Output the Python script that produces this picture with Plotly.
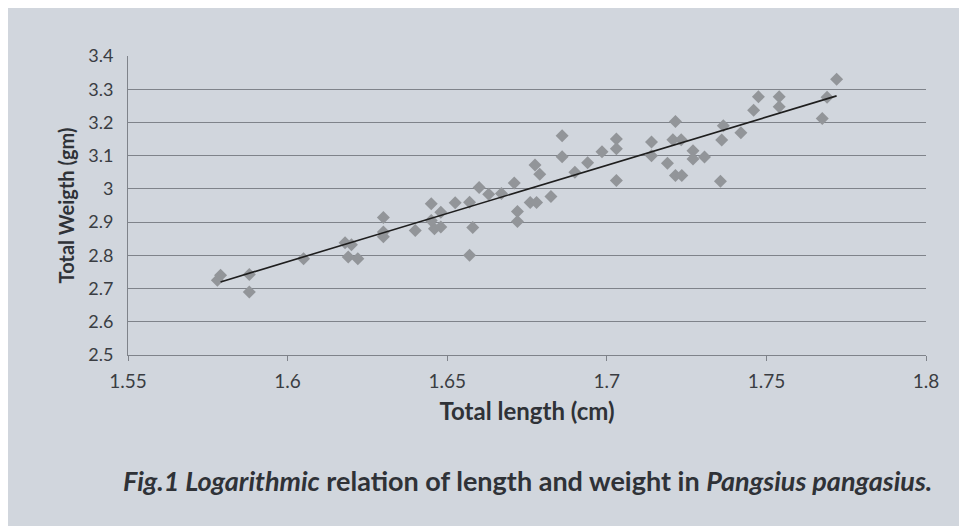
import plotly.graph_objects as go

# Data read from the (perspective-corrected) reference picture
length_cm = [1.579, 1.578, 1.588, 1.588, 1.605, 1.619, 1.622, 1.620, 1.618, 1.630,
             1.630, 1.630, 1.640, 1.645, 1.648, 1.646, 1.648, 1.645, 1.6525, 1.657,
             1.658, 1.657, 1.660, 1.663, 1.667, 1.671, 1.672, 1.672, 1.676, 1.678,
             1.6825, 1.6775, 1.679, 1.686, 1.686, 1.694, 1.690, 1.6985, 1.703, 1.703,
             1.703, 1.714, 1.714, 1.719, 1.7215, 1.7235, 1.727, 1.7207, 1.7233, 1.7306,
             1.727, 1.7356, 1.772, 1.769, 1.7675, 1.7475, 1.754, 1.746, 1.754, 1.7215,
             1.7365, 1.736, 1.742]
weight_gm = [2.740, 2.725, 2.742, 2.690, 2.790, 2.795, 2.790, 2.832, 2.838, 2.914,
             2.870, 2.856, 2.875, 2.955, 2.930, 2.880, 2.885, 2.905, 2.958, 2.960,
             2.884, 2.800, 3.004, 2.984, 2.986, 3.018, 2.932, 2.902, 2.959, 2.959,
             2.977, 3.072, 3.044, 3.097, 3.160, 3.079, 3.050, 3.112, 3.150, 3.121,
             3.025, 3.141, 3.100, 3.077, 3.040, 3.040, 3.115, 3.148, 3.148, 3.096,
             3.090, 3.023, 3.330, 3.276, 3.212, 3.277, 3.277, 3.237, 3.247, 3.203,
             3.190, 3.147, 3.169]

trend_x = [1.579, 1.772]
trend_y = [2.72, 3.28]

x_ticks = [1.55, 1.6, 1.65, 1.7, 1.75, 1.8]
x_tick_text = ["1.55", "1.6", "1.65", "1.7", "1.75", "1.8"]
y_ticks = [2.5, 2.6, 2.7, 2.8, 2.9, 3.0, 3.1, 3.2, 3.3, 3.4]
y_tick_text = ["2.5", "2.6", "2.7", "2.8", "2.9", "3", "3.1", "3.2", "3.3", "3.4"]

bg = "#d1d6dd"
grid = "#7f838a"
font_family = "Lato, 'Open Sans', sans-serif"

fig = go.Figure()
fig.add_trace(go.Scatter(
    x=length_cm, y=weight_gm, mode="markers",
    marker=dict(symbol="diamond", size=10, color="#929599", line=dict(width=0)),
    showlegend=False, hoverinfo="x+y"))
fig.add_trace(go.Scatter(
    x=trend_x, y=trend_y, mode="lines",
    line=dict(color="#1e1e1e", width=1.6),
    showlegend=False, hoverinfo="skip"))

fig.update_layout(
    width=967, height=526,
    paper_bgcolor=bg, plot_bgcolor=bg,
    margin=dict(l=120, r=49, t=48, b=179),
    font=dict(family=font_family, color="#3a3d42", size=18),
    xaxis=dict(
        range=[1.55, 1.8], tickvals=x_ticks, ticktext=x_tick_text,
        showgrid=False, zeroline=False,
        showline=True, linecolor=grid, linewidth=1,
        ticks="outside", ticklen=5, tickcolor=grid,
        ticklabelstandoff=4,
        tickfont=dict(size=19, color="#3a3d42"),
        title=dict(text="<b>Total length (cm)</b>", standoff=12,
                   font=dict(size=24, color="#2f3237")),
    ),
    yaxis=dict(
        range=[2.5, 3.4], tickvals=y_ticks, ticktext=y_tick_text,
        showgrid=True, gridcolor=grid, gridwidth=1,
        zeroline=False,
        showline=True, linecolor=grid, linewidth=1,
        ticks="", ticklabelstandoff=10,
        tickfont=dict(size=18, color="#3a3d42"),
        title=dict(text="<b>Total Weigth (gm)</b>", standoff=8,
                   font=dict(size=20, color="#2f3237")),
    ),
    annotations=[dict(
        xref="paper", yref="paper", x=0.5, y=-0.42,
        xanchor="center", yanchor="middle", showarrow=False,
        text="<b><i>Fig.1 Logarithmic</i> relation of length and weight in <i>Pangsius pangasius.</i></b>",
        font=dict(size=27, color="#2f3237", family=font_family),
    )],
)

fig.write_html("out.html")
